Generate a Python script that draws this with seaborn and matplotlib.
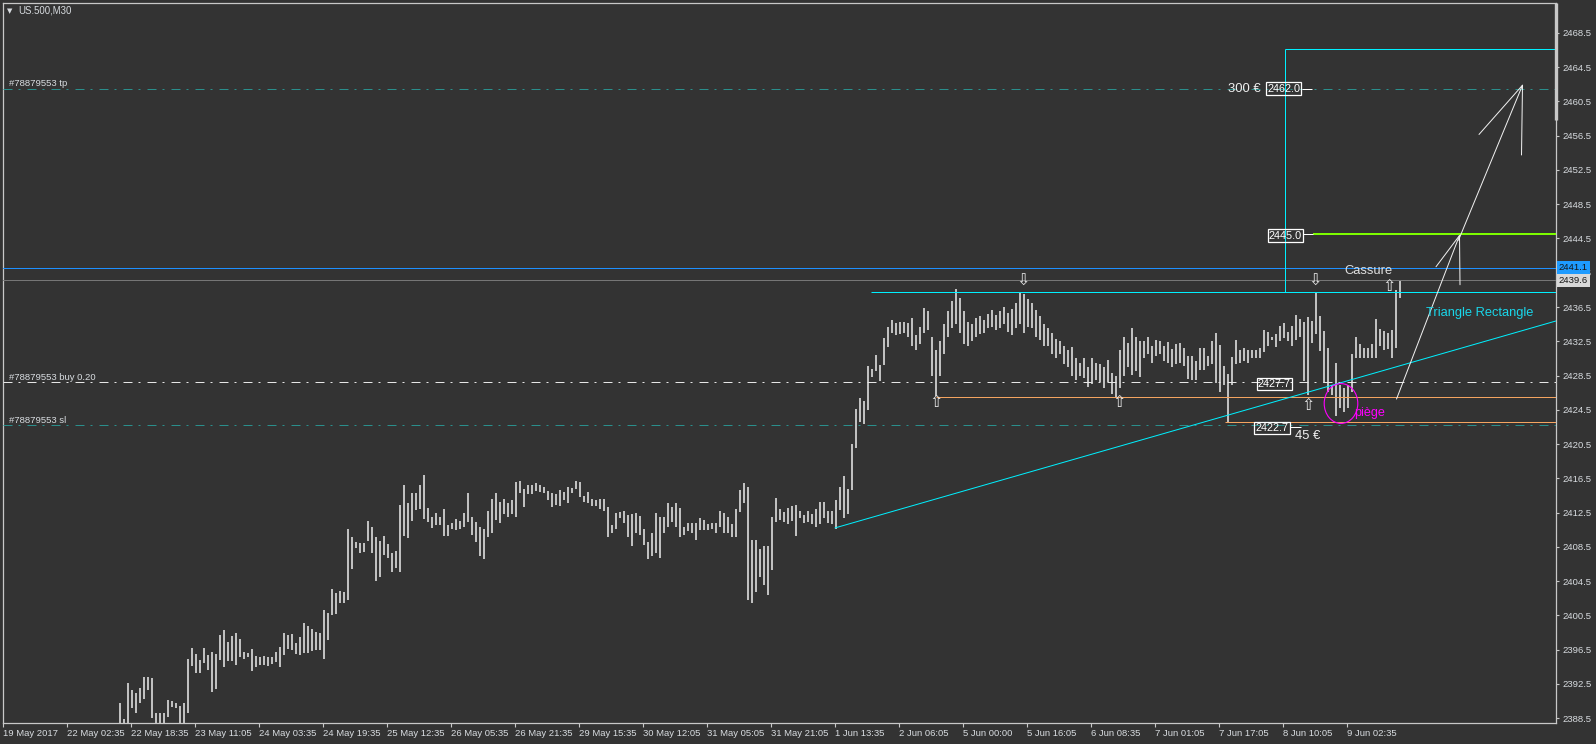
import numpy as np
import pandas as pd
import seaborn as sns
import matplotlib
matplotlib.use("Agg")
import matplotlib.pyplot as plt
from matplotlib.patches import Ellipse
from matplotlib.transforms import blended_transform_factory

# US.500 M30 - high / low per hour (2 M30 bars per value), 22 May -> 9 Jun 2017
highs = [
    2390.25, 2388.4, 2392.6, 2391.8, 2391.4, 2392.0, 2393.3, 2393.3, 2393.2, 2389.1,
    2389.1, 2389.1, 2390.6, 2390.5, 2390.25, 2389.9, 2390.25, 2395.4, 2396.7, 2396.0,
    2395.3, 2396.7, 2395.85, 2396.2, 2396.0, 2398.2, 2398.8, 2397.4, 2398.1, 2398.4,
    2397.7, 2396.2, 2396.1, 2396.55, 2395.75, 2395.6, 2395.75, 2395.6, 2395.6, 2396.2,
    2396.8, 2398.4, 2398.2, 2398.3, 2397.25, 2397.95, 2399.6, 2399.25, 2398.9, 2398.5,
    2398.4, 2401.1, 2400.75, 2403.6, 2403.1, 2403.3, 2403.2, 2410.6, 2409.6, 2409.1,
    2408.9, 2408.9, 2411.5, 2410.8, 2409.6, 2409.15, 2409.75, 2408.8, 2407.8, 2408.0,
    2413.4, 2415.7, 2413.6, 2414.8, 2414.8, 2415.7, 2416.9, 2413.0, 2412.0, 2412.45,
    2412.0, 2412.9, 2411.0, 2411.3, 2411.75, 2411.5, 2412.45, 2414.8, 2412.0, 2411.4,
    2410.8, 2410.6, 2412.7, 2414.1, 2414.8, 2413.7, 2414.1, 2413.6, 2414.0, 2416.1,
    2416.2, 2415.25, 2415.7, 2415.7, 2416.0, 2415.7, 2415.5, 2415.0, 2414.8, 2414.65,
    2415.1, 2414.9, 2415.5, 2415.4, 2416.2, 2416.1, 2414.4, 2414.9, 2414.1, 2414.0,
    2414.1, 2414.1, 2413.15, 2411.0, 2412.45, 2412.55, 2412.7, 2412.2, 2412.3, 2412.45,
    2412.1, 2410.6, 2409.05, 2410.1, 2412.45, 2412.0, 2412.0, 2413.6, 2413.15, 2413.6,
    2413.0, 2410.8, 2411.3, 2411.3, 2411.3, 2411.85, 2411.6, 2411.15, 2411.3, 2411.3,
    2412.7, 2412.45, 2412.0, 2411.15, 2412.9, 2415.1, 2416.0, 2415.5, 2409.3, 2409.3,
    2408.2, 2408.6, 2408.6, 2412.0, 2414.2, 2412.9, 2412.55, 2413.0, 2413.25, 2413.4,
    2412.7, 2412.2, 2412.7, 2412.3, 2412.9, 2413.7, 2413.7, 2412.7, 2412.7, 2414.0,
    2415.5, 2416.8, 2415.25, 2420.5, 2424.6, 2425.9, 2425.5, 2429.6, 2429.3, 2430.9,
    2429.7, 2432.9, 2434.2, 2435.0, 2434.6, 2434.75, 2434.75, 2434.6, 2435.2, 2433.2,
    2434.2, 2436.4, 2436.0, 2433.0, 2431.5, 2432.5, 2434.5, 2436.0, 2437.2, 2438.6,
    2437.5, 2436.0, 2434.8, 2434.5, 2435.2, 2435.5, 2435.0, 2435.7, 2436.2, 2435.6,
    2436.0, 2436.5, 2435.8, 2436.3, 2437.0, 2438.3, 2438.0, 2437.4, 2437.0, 2436.2,
    2435.5, 2434.5, 2434.0, 2433.5, 2432.8, 2432.5, 2432.0, 2431.5, 2431.8, 2430.5,
    2430.0, 2430.6, 2429.5, 2430.5, 2430.0, 2429.8, 2429.5, 2430.3, 2428.8, 2428.5,
    2431.5, 2433.0, 2432.3, 2434.0, 2433.0, 2432.5, 2432.5, 2433.0, 2432.0, 2432.6,
    2432.5, 2432.0, 2432.4, 2431.6, 2432.2, 2432.3, 2431.7, 2430.8, 2430.8, 2430.2,
    2431.75, 2431.7, 2430.8, 2432.5, 2433.5, 2432.1, 2429.6, 2428.7, 2430.65, 2432.65,
    2431.45, 2431.75, 2431.45, 2431.45, 2431.45, 2431.7, 2433.8, 2433.6, 2433.0, 2433.35,
    2434.3, 2434.6, 2433.6, 2434.3, 2435.6, 2435.1, 2434.7, 2435.3, 2434.9, 2438.1,
    2435.5, 2433.7, 2431.75, 2427.4, 2430.0, 2427.4, 2427.0, 2427.4, 2431.0, 2433.0,
    2432.2, 2431.7, 2431.75, 2432.2, 2435.1, 2433.9, 2433.7, 2433.5, 2433.8, 2438.5,
    2439.7,
]
lows = [
    2387.0, 2387.0, 2387.3, 2389.7, 2389.1, 2390.25, 2390.7, 2391.8, 2388.5, 2387.2,
    2387.3, 2387.5, 2388.6, 2389.8, 2389.7, 2387.6, 2387.7, 2389.1, 2394.6, 2393.75,
    2393.75, 2394.95, 2394.1, 2391.5, 2391.9, 2395.3, 2394.45, 2395.15, 2395.15, 2394.7,
    2395.6, 2395.4, 2395.6, 2394.0, 2394.45, 2394.7, 2394.7, 2394.6, 2394.8, 2395.0,
    2394.45, 2395.85, 2396.55, 2396.45, 2396.0, 2395.85, 2396.1, 2396.1, 2396.3, 2396.45,
    2396.45, 2395.4, 2397.6, 2400.5, 2400.65, 2401.9, 2401.9, 2402.3, 2405.9, 2408.35,
    2407.8, 2407.9, 2409.15, 2407.8, 2404.5, 2405.0, 2407.5, 2407.2, 2405.55, 2406.0,
    2405.55, 2409.75, 2409.5, 2411.5, 2412.8, 2412.9, 2411.7, 2411.4, 2410.7, 2411.0,
    2411.0, 2409.75, 2409.75, 2410.6, 2410.45, 2410.6, 2410.8, 2411.4, 2409.9, 2409.05,
    2407.4, 2407.1, 2409.65, 2410.1, 2411.6, 2411.3, 2412.3, 2412.0, 2412.3, 2412.0,
    2414.8, 2413.15, 2414.65, 2414.65, 2415.0, 2414.9, 2414.8, 2413.95, 2413.15, 2413.4,
    2413.25, 2413.95, 2413.6, 2414.8, 2415.25, 2414.3, 2413.7, 2413.6, 2413.25, 2413.25,
    2412.9, 2412.7, 2409.65, 2410.1, 2410.6, 2411.85, 2411.3, 2409.65, 2408.6, 2410.1,
    2409.9, 2408.7, 2407.1, 2407.4, 2407.8, 2407.2, 2410.1, 2410.8, 2411.4, 2410.8,
    2409.65, 2409.9, 2410.3, 2410.1, 2409.3, 2410.45, 2410.45, 2410.45, 2410.6, 2410.1,
    2410.8, 2410.1, 2410.1, 2409.65, 2409.65, 2412.55, 2413.6, 2402.3, 2401.9, 2403.2,
    2405.0, 2404.0, 2402.9, 2405.8, 2411.4, 2411.6, 2411.4, 2411.15, 2411.5, 2409.75,
    2411.85, 2411.3, 2411.4, 2411.15, 2410.8, 2411.15, 2411.85, 2411.3, 2411.15, 2410.6,
    2412.8, 2411.85, 2412.3, 2415.1, 2420.0, 2423.1, 2422.8, 2424.5, 2428.3, 2429.0,
    2427.85, 2429.7, 2431.8, 2433.5, 2433.2, 2433.35, 2433.5, 2433.0, 2431.95, 2431.5,
    2432.2, 2433.5, 2433.8, 2428.5, 2426.1, 2428.5, 2431.0, 2433.0, 2434.0, 2434.5,
    2433.5, 2432.2, 2432.0, 2432.5, 2433.0, 2433.3, 2433.5, 2434.0, 2434.2, 2433.8,
    2434.0, 2434.5, 2433.6, 2433.2, 2434.0, 2434.5, 2433.5, 2434.2, 2434.0, 2433.0,
    2432.6, 2432.0, 2432.0, 2431.0, 2430.5, 2431.0, 2429.8, 2429.5, 2428.5, 2428.0,
    2428.5, 2428.2, 2427.2, 2427.5, 2428.0, 2427.8, 2427.0, 2427.8, 2426.3, 2425.9,
    2427.0, 2428.5, 2429.5, 2428.6, 2429.0, 2428.3, 2430.5, 2431.0, 2430.0, 2430.8,
    2431.0, 2430.2, 2430.0, 2429.5, 2429.8, 2430.0, 2429.6, 2428.1, 2428.0, 2428.0,
    2429.2, 2429.2, 2429.6, 2429.9, 2427.6, 2426.6, 2427.4, 2423.1, 2427.4, 2429.8,
    2430.0, 2430.2, 2430.0, 2430.5, 2430.6, 2430.5, 2431.2, 2431.95, 2432.6, 2431.8,
    2432.5, 2432.9, 2432.5, 2431.95, 2432.7, 2433.0, 2427.9, 2426.25, 2432.3, 2433.35,
    2431.4, 2427.6, 2426.6, 2426.25, 2423.8, 2424.7, 2424.2, 2424.7, 2426.6, 2430.6,
    2430.6, 2430.6, 2430.6, 2430.6, 2430.6, 2432.0, 2431.45, 2431.6, 2430.5, 2431.75,
    2437.6,
]

first_bar = 58.5   # M30 bar index of the first value
bar_step = 2       # two M30 bars per value

# time scale, one label every 32 M30 bars
time_labels = ["19 May 2017", "22 May 02:35", "22 May 18:35", "23 May 11:05",
               "24 May 03:35", "24 May 19:35", "25 May 12:35", "26 May 05:35",
               "26 May 21:35", "29 May 15:35", "30 May 12:05", "31 May 05:05",
               "31 May 21:05", "1 Jun 13:35", "2 Jun 06:05", "5 Jun 00:00",
               "5 Jun 16:05", "6 Jun 08:35", "7 Jun 01:05", "7 Jun 17:05",
               "8 Jun 10:05", "9 Jun 02:35"]
label_step = 32

price_ticks = [2388.5 + 4 * k for k in range(21)]

# order / price levels
tp_price = 2462.0
buy_price = 2427.7
sl_price = 2422.7
target_price = 2445.0
ask_price = 2441.1
bid_price = 2439.6

# drawn objects, (bar index, price)
resist_start, resist_price = 434, 2438.2
box_start, box_top = 641, 2466.6
support_start, support_price = 466.5, 2426.0
low_start, low_price = 611, 2423.05
target_start = 655
trend_p1 = (416, 2410.7)
trend_p2 = (680, 2428.4)
arrow1 = [(696.75, 2425.75), (728.25, 2444.85)]
arrow1_head = [(716.5, 2441.2), (728.25, 2444.85), (728.5, 2439.1)]
arrow2 = [(727.75, 2444.3), (759.75, 2462.4)]
arrow2_head = [(738, 2456.65), (759.75, 2462.4), (759.25, 2454.25)]
up_marks = [(466.5, 2425.3), (558, 2425.3), (652.5, 2425.0), (693, 2438.9)]
down_marks = [(510, 2439.5), (656, 2439.45)]

x_min, x_max = -0.25, 776.5
y_min, y_max = 2387.92, 2472.06

bg = "#333333"
fg = "#d8dce0"
cyan = "#00f0ff"

sns.set_theme(style="dark", rc={
    "axes.facecolor": bg, "figure.facecolor": bg,
    "axes.edgecolor": "#c8c8c8", "axes.grid": False,
    "xtick.color": "#c8c8c8", "ytick.color": "#c8c8c8",
    "xtick.labelcolor": fg, "ytick.labelcolor": fg,
    "lines.scale_dashes": False,
})
plt.rcParams["font.family"] = ["Liberation Sans", "DejaVu Sans"]

px = 0.72  # one pixel in points
dash_dot = (0, (9 * px, 6 * px, 2 * px, 7 * px))

fig = plt.figure(figsize=(15.96, 7.44), dpi=100)
ax = fig.add_axes([2.5 / 1596, 21 / 744, 1553.5 / 1596, 720.5 / 744])

df = pd.DataFrame({"bar": first_bar + bar_step * np.arange(len(highs)),
                   "high": highs, "low": lows})
ax.vlines(df["bar"], df["low"], df["high"], color="#d6d6d6", lw=1.25, zorder=2)

# horizontal levels
ax.axhline(ask_price, color="#1e90ff", lw=px, zorder=3)
ax.axhline(bid_price, color="#767676", lw=px, zorder=3)
ax.axhline(tp_price, color="#2a8f8c", lw=px, ls=dash_dot, zorder=3)
ax.axhline(sl_price, color="#2a8f8c", lw=px, ls=dash_dot, zorder=3)
ax.axhline(buy_price, color="#e6e6e6", lw=px, ls=dash_dot, zorder=3)
ax.hlines(resist_price, resist_start, x_max, color=cyan, lw=px, zorder=3)
ax.hlines(box_top, box_start, x_max, color=cyan, lw=px, zorder=3)
ax.vlines(box_start, resist_price, box_top, color=cyan, lw=px, zorder=3)
ax.hlines(support_price, support_start, x_max, color="#f4a460", lw=px, zorder=3)
ax.hlines(low_price, low_start, x_max, color="#f4a460", lw=px, zorder=3)
ax.hlines(target_price, target_start, x_max, color="#7cfc00", lw=2 * px, zorder=3)

# rising trendline (ray)
slope = (trend_p2[1] - trend_p1[1]) / (trend_p2[0] - trend_p1[0])
sns.lineplot(x=[trend_p1[0], x_max],
             y=[trend_p1[1], trend_p1[1] + slope * (x_max - trend_p1[0])],
             color=cyan, lw=px, ax=ax, zorder=3)

# projection arrows
for pts in (arrow1, arrow1_head, arrow2, arrow2_head):
    xs, ys = zip(*pts)
    ax.plot(xs, ys, color="#f0f0f0", lw=px, zorder=4)

# fractal marks
for x, y in up_marks:
    ax.text(x, y, "\u21e7", ha="center", va="center", fontsize=11.5,
            color="#e8e8e8", family="DejaVu Sans", zorder=5)
for x, y in down_marks:
    ax.text(x, y, "\u21e9", ha="center", va="center", fontsize=11.5,
            color="#e8e8e8", family="DejaVu Sans", zorder=5)

# trap circle
ax.add_patch(Ellipse((669, 2425.23), width=16.8, height=4.65, fill=False,
                     ec="#ff00ff", lw=0.8, zorder=5))

# price boxes on the chart
box_kw = dict(boxstyle="square,pad=0.12", fc="none", ec="white", lw=0.9)
ax.text(640.25, tp_price, "2462.0", ha="center", va="center", fontsize=7.8,
        color="white", bbox=box_kw, zorder=6)
ax.hlines(tp_price, 649.5, 654.5, color="white", lw=px, zorder=6)
ax.text(629, tp_price, "300 \u20ac", ha="right", va="center", fontsize=9.4,
        color="#f0f0f0", zorder=6)
ax.text(641.25, target_price - 0.15, "2445.0", ha="center", va="center", fontsize=7.8,
        color="white", bbox=box_kw, zorder=6)
ax.hlines(target_price, 650, 655, color="white", lw=px, zorder=6)
ax.text(635.75, buy_price - 0.2, "2427.7", ha="center", va="center", fontsize=7.8,
        color="white", bbox=box_kw, zorder=6)
ax.text(634.5, sl_price - 0.35, "2422.7", ha="center", va="center", fontsize=7.8,
        color="white", bbox=box_kw, zorder=6)
ax.hlines(sl_price - 0.2, 643.5, 649, color="white", lw=px, zorder=6)
ax.text(646, sl_price - 1.25, "45 \u20ac", ha="left", va="center", fontsize=9.4,
        color="#f0f0f0", zorder=6)

ax.text(682.5, 2440.7, "Cassure", ha="center", va="center", fontsize=9.3,
        color="#e0e0e0", zorder=6)
ax.text(738.5, 2435.8, "Triangle Rectangle", ha="center", va="center", fontsize=9.3,
        color="#19d6ea", zorder=6)
ax.text(675.5, 2424.1, "pi\u00e8ge", ha="left", va="center", fontsize=9.1,
        color="#ff00ff", zorder=6)

# order labels on the left
left = blended_transform_factory(ax.transAxes, ax.transData)
for price, label in ((tp_price, "#78879553 tp"), (buy_price, "#78879553 buy 0.20"),
                     (sl_price, "#78879553 sl")):
    ax.text(0.0044, price + 0.3, label, transform=left, ha="left", va="baseline",
            fontsize=6.8, color=fg, zorder=6)

ax.text(0.0027, 0.9886, "\u25bc", transform=ax.transAxes, ha="left", va="center",
        fontsize=5, color=fg, family="DejaVu Sans")
ax.text(0.010, 0.9886, "US.500,M30", transform=ax.transAxes, ha="left", va="center",
        fontsize=6.9, color=fg)

# price scale labels for ask / bid
ax.text(1.0019, ask_price, "2441.1", transform=left, ha="left", va="center",
        fontsize=6.8, color="#151515", clip_on=False, zorder=7,
        bbox=dict(boxstyle="square,pad=0.22", fc="#1e9bff", ec="none"))
ax.text(1.0019, bid_price, "2439.6", transform=left, ha="left", va="center",
        fontsize=6.8, color="#151515", clip_on=False, zorder=7,
        bbox=dict(boxstyle="square,pad=0.22", fc="#d8d8d8", ec="none"))
ax.plot([1, 1], [0.837, 1], transform=ax.transAxes, color="#c8c8c8", lw=2.4,
        clip_on=False, solid_capstyle="butt", zorder=8)

# axes
ax.set_xlim(x_min, x_max)
ax.set_ylim(y_min, y_max)
ax.set_xticks([label_step * k for k in range(len(time_labels))])
ax.set_xticklabels(time_labels, ha="left", fontsize=6.8)
ax.yaxis.tick_right()
ax.set_yticks(price_ticks)
ax.set_yticklabels([f"{p:.1f}" for p in price_ticks], fontsize=6.8)
ax.tick_params(axis="x", length=3, width=0.8, pad=1.5, bottom=True)
ax.tick_params(axis="y", length=2.5, width=0.8, pad=2, right=True, left=False)
ax.set_xlabel("")
ax.set_ylabel("")
for s in ax.spines.values():
    s.set_color("#c8c8c8")
    s.set_linewidth(0.9)
if ax.get_legend() is not None:
    ax.get_legend().remove()

fig.savefig("out.png", dpi=100, facecolor=bg)
